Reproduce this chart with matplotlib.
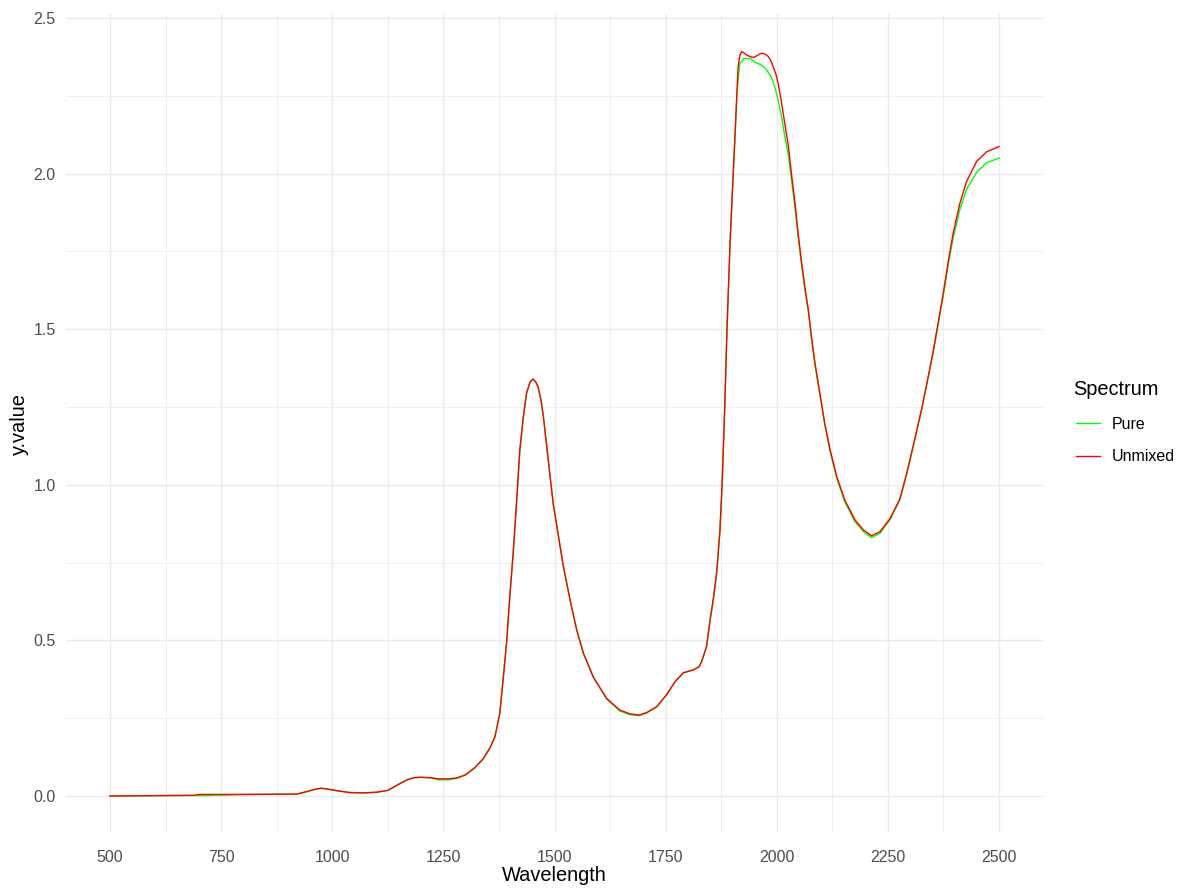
import matplotlib
matplotlib.use("Agg")
import matplotlib.pyplot as plt
from matplotlib.ticker import FixedLocator
from matplotlib.legend_handler import HandlerLine2D
from matplotlib.lines import Line2D

plt.rcParams['font.family'] = ['Liberation Sans', 'DejaVu Sans']

# ---- data ----
wavelength = [500, 600, 690, 700, 710, 800, 920, 940, 960, 975, 990, 1010, 1040, 1070, 1100,
              1125, 1150, 1170, 1185, 1200, 1220, 1240, 1260, 1280, 1300, 1320, 1340, 1355,
              1366, 1377, 1385, 1392, 1400, 1407, 1415, 1422, 1430, 1437, 1445, 1452, 1458,
              1463, 1470, 1475, 1486, 1497, 1509, 1520, 1535, 1550, 1565, 1587, 1617, 1647,
              1670, 1690, 1707, 1730, 1752, 1771, 1790, 1812, 1825, 1831, 1842, 1850, 1857,
              1865, 1872, 1877, 1883, 1888, 1895, 1902, 1906, 1910, 1913, 1917, 1921, 1926,
              1932, 1940, 1947, 1953, 1958, 1964, 1969, 1975, 1981, 1987, 1992, 1998, 2003,
              2011, 2018, 2026, 2033, 2041, 2048, 2056, 2063, 2071, 2078, 2086, 2097, 2108,
              2120, 2135, 2153, 2176, 2195, 2213, 2232, 2255, 2277, 2292, 2311, 2326, 2341,
              2352, 2363, 2375, 2386, 2397, 2412, 2427, 2450, 2472, 2500]

unmixed = [0.000, 0.001, 0.002, 0.005, 0.005, 0.005, 0.006, 0.013, 0.021, 0.025, 0.022, 0.017,
           0.011, 0.010, 0.012, 0.018, 0.038, 0.053, 0.059, 0.060, 0.059, 0.055, 0.055, 0.058,
           0.068, 0.090, 0.120, 0.155, 0.190, 0.266, 0.383, 0.490, 0.651, 0.780, 0.951, 1.112,
           1.219, 1.294, 1.330, 1.340, 1.330, 1.315, 1.270, 1.219, 1.080, 0.940, 0.833, 0.737,
           0.630, 0.533, 0.459, 0.383, 0.314, 0.276, 0.264, 0.260, 0.268, 0.287, 0.325, 0.367,
           0.396, 0.405, 0.415, 0.432, 0.480, 0.566, 0.630, 0.720, 0.850, 1.000, 1.250, 1.500,
           1.780, 2.000, 2.120, 2.258, 2.343, 2.380, 2.392, 2.388, 2.381, 2.376, 2.373, 2.377,
           2.381, 2.386, 2.386, 2.383, 2.376, 2.362, 2.343, 2.320, 2.290, 2.226, 2.161, 2.090,
           2.000, 1.905, 1.808, 1.712, 1.637, 1.562, 1.476, 1.390, 1.294, 1.197, 1.112, 1.026,
           0.951, 0.887, 0.855, 0.836, 0.849, 0.892, 0.955, 1.035, 1.150, 1.245, 1.350, 1.430,
           1.520, 1.620, 1.720, 1.810, 1.905, 1.975, 2.040, 2.070, 2.087]

pure = [0.000, 0.001, 0.002, 0.001, 0.001, 0.005, 0.006, 0.013, 0.021, 0.025, 0.022, 0.017,
        0.011, 0.010, 0.012, 0.018, 0.038, 0.053, 0.059, 0.060, 0.058, 0.052, 0.052, 0.056,
        0.068, 0.090, 0.120, 0.155, 0.190, 0.266, 0.383, 0.490, 0.651, 0.780, 0.951, 1.112,
        1.219, 1.294, 1.330, 1.340, 1.330, 1.315, 1.270, 1.219, 1.080, 0.940, 0.833, 0.737,
        0.630, 0.533, 0.459, 0.383, 0.312, 0.273, 0.261, 0.258, 0.266, 0.286, 0.325, 0.367,
        0.396, 0.405, 0.415, 0.432, 0.480, 0.566, 0.630, 0.720, 0.850, 1.000, 1.250, 1.500,
        1.780, 2.000, 2.110, 2.247, 2.300, 2.354, 2.360, 2.370, 2.370, 2.370, 2.362, 2.356,
        2.354, 2.349, 2.345, 2.337, 2.325, 2.312, 2.295, 2.265, 2.237, 2.180, 2.120, 2.060,
        1.980, 1.890, 1.798, 1.704, 1.630, 1.556, 1.470, 1.385, 1.290, 1.193, 1.108, 1.020,
        0.945, 0.881, 0.849, 0.830, 0.844, 0.888, 0.952, 1.033, 1.148, 1.243, 1.347, 1.425,
        1.513, 1.611, 1.709, 1.795, 1.885, 1.950, 2.005, 2.035, 2.050]

series_names = ["Pure", "Unmixed"]
series_colors = ["#00FF00", "#FF0000"]
x_ticks = [500, 750, 1000, 1250, 1500, 1750, 2000, 2250, 2500]
y_ticks = [0.0, 0.5, 1.0, 1.5, 2.0, 2.5]

# ---- figure ----
W, H = 1191, 888
fig = plt.figure(figsize=(W / 100, H / 100), dpi=100)
left, right, bottom, top = 65.5, 1043.5, 833.2, 14.4
ax = fig.add_axes([left / W, 1 - bottom / H, (right - left) / W, (bottom - top) / H])

for name, vals, col in zip(series_names, [pure, unmixed], series_colors):
    ax.plot(wavelength, vals, color=col, lw=1.0, label=name, solid_joinstyle='round')

xmin, xmax = min(wavelength), max(wavelength)
allv = pure + unmixed
ymin, ymax = min(allv), max(allv)
ax.set_xlim(xmin - 0.05 * (xmax - xmin), xmax + 0.05 * (xmax - xmin))
ax.set_ylim(ymin - 0.05 * (ymax - ymin), ymax + 0.05 * (ymax - ymin))

ax.xaxis.set_major_locator(FixedLocator(x_ticks))
ax.yaxis.set_major_locator(FixedLocator(y_ticks))
ax.xaxis.set_minor_locator(FixedLocator([t + 125 for t in x_ticks[:-1]]))
ax.yaxis.set_minor_locator(FixedLocator([t + 0.25 for t in y_ticks[:-1]]))
ax.set_xticklabels([str(t) for t in x_ticks])
ax.set_yticklabels([f"{t:.1f}" for t in y_ticks])

ax.grid(which='major', color='#EBEBEB', lw=1.05)
ax.grid(which='minor', color='#EBEBEB', lw=0.55)
ax.set_axisbelow(True)
for s in ax.spines.values():
    s.set_visible(False)
ax.tick_params(which='both', length=0)
ax.tick_params(axis='x', labelsize=11.5, labelcolor='#4D4D4D', pad=12)
ax.tick_params(axis='y', labelsize=11.5, labelcolor='#4D4D4D', pad=7)

ax.set_xlabel("Wavelength", fontsize=14.4, color='black')
ax.set_ylabel("y.value", fontsize=14.4, color='black')
ax.xaxis.set_label_coords(0.5 * (left + right) / W, 1 - 866 / H, transform=fig.transFigure)
ax.yaxis.set_label_coords(29 / W, 1 - 0.5 * (top + bottom) / H, transform=fig.transFigure)

leg = ax.legend(title="Spectrum", loc='upper left', bbox_to_anchor=(1073 / W, 1 - 380 / H),
                bbox_transform=fig.transFigure, frameon=False, fontsize=11.5,
                title_fontsize=14.4, handlelength=1.69, handletextpad=0.75,
                labelspacing=1.1, borderpad=0, borderaxespad=0, alignment='left',
                handler_map={Line2D: HandlerLine2D(xpad=0.19)})
for line in leg.get_lines():
    line.set_linewidth(1.0)

fig.savefig("out.png", dpi=100)
